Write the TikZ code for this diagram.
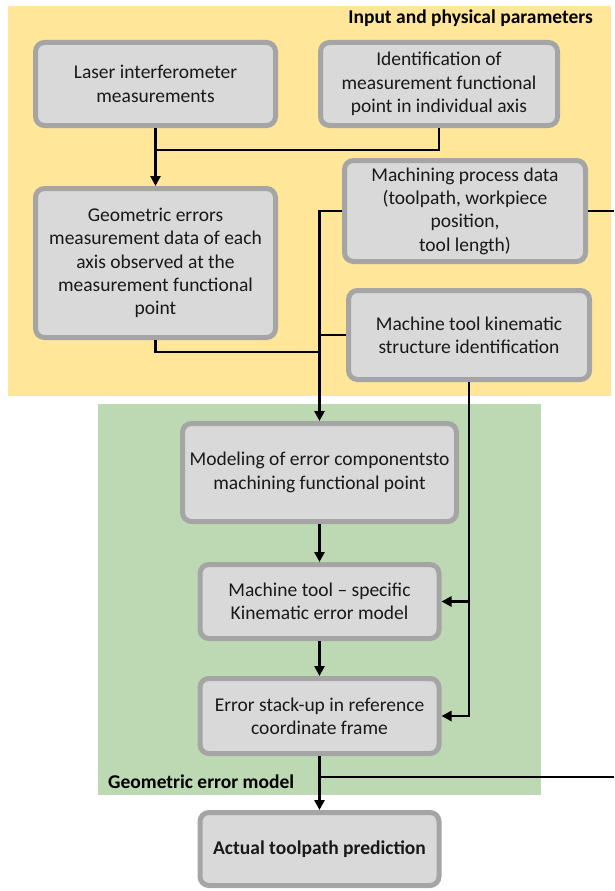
\documentclass[tikz,border=0pt]{standalone}
\usepackage{fontspec}
\setmainfont{Carlito}
\usetikzlibrary{arrows.meta}
\usetikzlibrary{positioning}
\definecolor{inputbg}{HTML}{FFE699}
\definecolor{modelbg}{HTML}{BCD9B4}
\definecolor{boxfill}{HTML}{D9D9D9}
\definecolor{boxline}{HTML}{A5A5A5}
\tikzset{procbox/.style = {draw=boxline, fill=boxfill, line width=5pt, rounded corners=9pt,
                           align=center, inner sep=0pt, text=black!90,
                           font=\fontsize{19.5}{23.3}\selectfont},
         link/.style = {line width=2.5pt},
         arr/.style = {link, -{Triangle[length=10pt, width=10pt]}},
         grouplabel/.style = {font=\fontsize{19.5}{23.3}\selectfont\bfseries, inner sep=0pt}}

\begin{document}
\begin{tikzpicture}[x=1pt, y=-1pt]
    \useasboundingbox (0,0) rectangle (614,891);
    \fill[inputbg] (8,6) rectangle (611,396);
    \fill[modelbg] (98,404) rectangle (541,795);
    \node[grouplabel, anchor=east] (inlabel) at (593,18) {Input and physical parameters};
    \node[grouplabel, anchor=west] (modlabel) at (108,782) {Geometric error model};

    \node[procbox, minimum width=240pt, minimum height=83pt] (laser) at (155.5,84)
        {Laser interferometer\\measurements};
    \node[procbox, minimum width=237pt, minimum height=83pt] (ident) at (439,84)
        {Identification of\\measurement functional\\point in individual axis};
    \node[procbox, minimum width=240pt, minimum height=149pt] (geom) at (155.5,263)
        {Geometric errors\\measurement data of each\\axis observed at the\\measurement functional\\point};
    \node[procbox, minimum width=241pt, minimum height=101pt] (machdata) at (465,211)
        {Machining process data\\(toolpath, workpiece\\position,\\tool length)};
    \node[procbox, minimum width=241pt, minimum height=89pt] (kinstruct) at (469,335)
        {Machine tool kinematic\\structure identification};
    \node[procbox, minimum width=274pt, minimum height=98pt] (modeling) at (319.5,472.5)
        {Modeling of error componentsto\\machining functional point};
    \node[procbox, minimum width=239pt, minimum height=74pt] (specific) at (319.5,601.5)
        {Machine tool -- specific\\Kinematic error model};
    \node[procbox, minimum width=239pt, minimum height=75pt] (stackup) at (319.5,716)
        {Error stack-up in reference\\coordinate frame};
    \node[procbox, minimum width=239pt, minimum height=73pt, font=\fontsize{19.5}{23.3}\selectfont\bfseries] (actual) at (319.5,849)
        {Actual toolpath prediction};

    \coordinate (j1) at (155.5,150);
    \coordinate (j2) at (319.5,352);
    \coordinate (out1) at (614,211);
    \coordinate (out2) at (614,777);

    \draw[arr] (laser.south) -- (geom.north);
    \draw[link] (ident.south) |- (j1);
    \draw[arr] (machdata.west) -| (modeling.north);
    \draw[link] (kinstruct.west) -- (kinstruct.west -| modeling.north);
    \draw[link] (geom.south) |- (j2);
    \draw[link] (machdata.east) -- (out1);
    \draw[arr] (kinstruct.south) |- (stackup.east);
    \draw[arr] (kinstruct.south |- specific.east) -- (specific.east);
    \draw[arr] (modeling.south) -- (specific.north);
    \draw[arr] (specific.south) -- (stackup.north);
    \draw[arr] (stackup.south) -- (actual.north);
    \draw[link] (stackup.south |- out2) -- (out2);
\end{tikzpicture}
\end{document}
